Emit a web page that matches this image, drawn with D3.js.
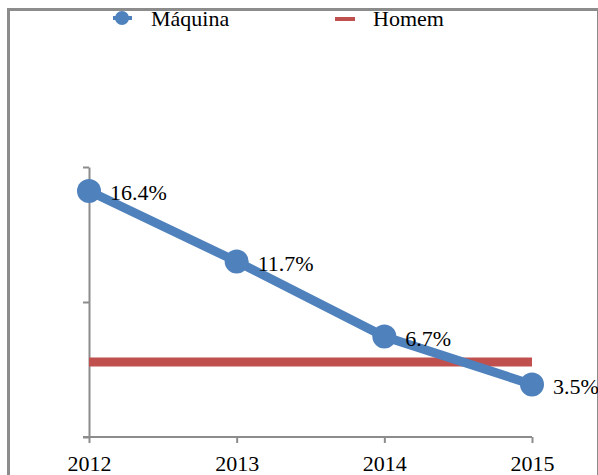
<!DOCTYPE html>
<html>
<head>
<meta charset="utf-8">
<script src="https://cdn.jsdelivr.net/npm/d3@7"></script>
<style>
  body { margin: 0; background: #fff; }
  svg text { font-family: "Times New Roman", Times, "Liberation Serif", Tinos, serif; fill: #000; }
</style>
</head>
<body>
<script>
const WIDTH = 598;
const HEIGHT = 475;
const FONT = "'Times New Roman', Times, 'Liberation Serif', Tinos, serif";

const years = ["2012", "2013", "2014", "2015"];
const maquina = [16.4, 11.7, 6.7, 3.5];
const homem = [5, 5, 5, 5];
const labels = ["16.4%", "11.7%", "6.7%", "3.5%"];
const yTicks = [0, 9, 18];

const BLUE = "#4f81bd";
const RED = "#c0504d";
const AXIS = "#8c8c8c";

let svg = d3.select("body").append("svg")
    .attr("width", WIDTH)
    .attr("height", HEIGHT);

// outer frame (bottom edge is cut off by the picture)
svg.append("rect")
    .attr("x", 8.5).attr("y", 9.5)
    .attr("width", 590).attr("height", 480)
    .attr("fill", "none")
    .attr("stroke", AXIS)
    .attr("stroke-width", 3);

let xscale = d3.scalePoint()
    .domain(years)
    .range([89, 532]);

let yscale = d3.scaleLinear()
    .domain([0, 18])
    .range([437, 167]);

// y axis
let yAxisGroup = svg.append("g").attr("transform", "translate(89,0)");
yAxisGroup.call(d3.axisLeft(yscale).tickValues(yTicks).tickFormat("").tickSize(6).tickSizeOuter(0));
yAxisGroup.selectAll("path, line").attr("stroke", AXIS).attr("stroke-width", 2);

// x axis
let xAxisGroup = svg.append("g").attr("transform", "translate(0,437)");
xAxisGroup.call(d3.axisBottom(xscale).tickSize(6).tickSizeOuter(0).tickPadding(12));
xAxisGroup.attr("font-family", FONT).attr("font-size", 22);
xAxisGroup.select("path").attr("d", "M83,0H532").attr("stroke", AXIS).attr("stroke-width", 2);
xAxisGroup.selectAll("line").attr("stroke", AXIS).attr("stroke-width", 2);
xAxisGroup.selectAll("text").attr("fill", "#000");

let line = d3.line()
    .x((d, i) => xscale(years[i]))
    .y(d => yscale(d));

// Homem line
svg.append("path")
    .datum(homem)
    .attr("fill", "none")
    .attr("stroke", RED)
    .attr("stroke-width", 9)
    .attr("d", line);

// Maquina line
svg.append("path")
    .datum(maquina)
    .attr("fill", "none")
    .attr("stroke", BLUE)
    .attr("stroke-width", 9)
    .attr("d", line);

svg.selectAll(".pt")
    .data(maquina)
    .enter().append("circle")
    .attr("cx", (d, i) => xscale(years[i]))
    .attr("cy", d => yscale(d))
    .attr("r", 12)
    .attr("fill", BLUE);

svg.selectAll(".lbl")
    .data(maquina)
    .enter().append("text")
    .attr("x", (d, i) => xscale(years[i]) + 21)
    .attr("y", d => yscale(d) + 9)
    .attr("font-family", FONT)
    .attr("font-size", 22)
    .text((d, i) => labels[i]);

// legend
let legend = svg.append("g").attr("font-family", FONT).attr("font-size", 22);
legend.append("line")
    .attr("x1", 113).attr("x2", 132).attr("y1", 18).attr("y2", 18)
    .attr("stroke", BLUE).attr("stroke-width", 4);
legend.append("circle")
    .attr("cx", 122).attr("cy", 18).attr("r", 7).attr("fill", BLUE);
legend.append("text")
    .attr("x", 151).attr("y", 26)
    .text("Máquina");
legend.append("line")
    .attr("x1", 335).attr("x2", 355).attr("y1", 19).attr("y2", 19)
    .attr("stroke", RED).attr("stroke-width", 4);
legend.append("text")
    .attr("x", 373).attr("y", 26)
    .text("Homem");
</script>
</body>
</html>
